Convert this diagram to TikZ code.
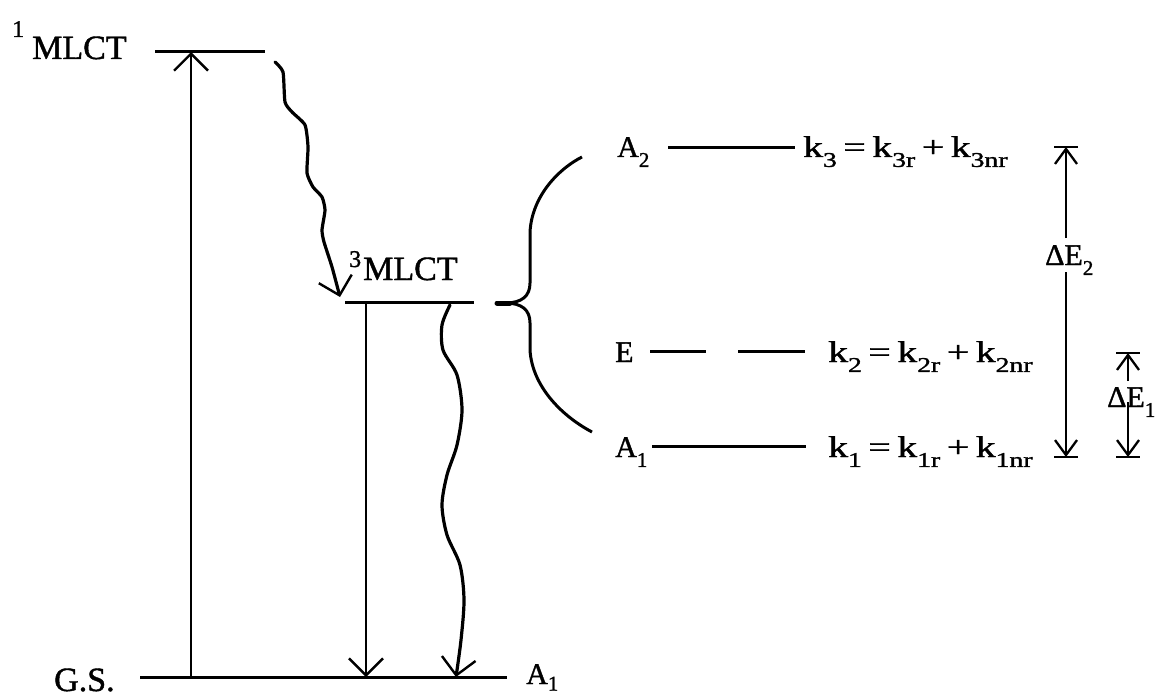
\documentclass[tikz,border=0pt]{standalone}
\usepackage{fontspec}
\setmainfont{Liberation Serif}
\newfontfamily\hv{Liberation Serif}[FakeBold=1.2]
\usetikzlibrary{arrows.meta}
\newcommand\mysub[1]{\raisebox{-0.33em}{\fontsize{21}{21}\selectfont #1}}
\newcommand\myup[2]{\raisebox{#1}{\fontsize{24}{24}\selectfont #2}}
\newcommand\krow[1]{\scalebox{1.32}[1]{#1}}
\tikzset{
  lv/.style={line width=3pt},
  ar/.style={line width=2.5pt},
  wv/.style={line width=3.2pt, line join=round, line cap=round},
  txt/.style={inner sep=0pt, font=\hv\fontsize{30}{30}\selectfont},
  bigtxt/.style={inner sep=0pt, font=\hv\fontsize{34}{34}\selectfont},
  Vbig/.tip={Straight Barb[length=17pt,width=34pt,line width=2.4pt]},
  Vsml/.tip={Straight Barb[length=15pt,width=22pt,line width=2.3pt]},
}
\begin{document}
\begin{tikzpicture}[x=1pt,y=-1pt]
\useasboundingbox (0,0) rectangle (1169,698);

% level lines
\coordinate (s1L) at (155,52);  \coordinate (s1R) at (265,52);
\coordinate (t3L) at (345,302); \coordinate (t3R) at (474,302);
\coordinate (gsL) at (140,677); \coordinate (gsR) at (507,677);
\draw[lv] (s1L) -- (s1R);
\draw[lv] (t3L) -- (t3R);
\draw[lv] (gsL) -- (gsR);

% labels, left part
\node[bigtxt, anchor=base west] (l1) at (12,59) {\myup{22pt}{1}\hspace{8pt}MLCT};
\node[bigtxt, anchor=base west] (l3) at (349,280) {\myup{13pt}{3}\hspace{2pt}MLCT};
\node[bigtxt, anchor=base west] (lgs) at (54,691) {G.S.};
\node[txt, anchor=base west] (lga) at (526,684) {A\raisebox{-0.22em}{\fontsize{21}{21}\selectfont 1}};

% absorption and emission
\coordinate (absB) at (191,677); \coordinate (absT) at (191,52);
\draw[ar, -{Vbig}] (absB) -- (absT);
\coordinate (emT) at (366,302); \coordinate (emB) at (366,677);
\draw[ar, -{Vbig}] (emT) -- (emB);

% wavy arrows
\coordinate (w1s) at (275,62); \coordinate (w1e) at (340,297);
\draw[wv, -{Vbig}] plot[smooth, tension=0.35] coordinates {(w1s) (283,72) (285,102) (292,112) (305,125) (308,147) (307,173) (313,187) (322,197) (325,210) (322,230) (324,242) (332,267) (w1e)};
\coordinate (w2s) at (450,305); \coordinate (w2e) at (456,677);
\draw[wv, -{Vbig}] plot[smooth, tension=0.5] coordinates {(w2s) (442,325) (443,350) (457,375) (462,410) (457,445) (447,475) (442,505) (447,535) (460,565) (464,600) (461,640) (w2e)};

% brace
\coordinate (brT) at (582,157); \coordinate (brB) at (592,432); \coordinate (brTip) at (497,303);
\draw[lv] (brT) .. controls (560,168) and (532,195) .. (530,232) -- (530,283) .. controls (530,296) and (522,303) .. (505,303)
          .. controls (522,303) and (530,310) .. (530,323) -- (530,350) .. controls (532,385) and (560,415) .. (brB);
\draw[line width=5pt, line cap=round] (brTip) -- (510,303);

% sublevels
\node[txt, anchor=base west] (a2) at (617,157) {A\mysub{2}};
\coordinate (a2L) at (668,147); \coordinate (a2R) at (795,147);
\draw[lv] (a2L) -- (a2R);
\node[txt, anchor=base west] (k3) at (803,157) {\krow{k\mysub{3}\,=\,k\mysub{3r}\,+\,k\mysub{3nr}}};

\node[txt, anchor=base west] (e) at (615,362) {E};
\coordinate (eL) at (650,351); \coordinate (eM1) at (706,351); \coordinate (eM2) at (738,351); \coordinate (eR) at (805,351);
\draw[lv] (eL) -- (eM1);
\draw[lv] (eM2) -- (eR);
\node[txt, anchor=base west] (k2) at (828,362) {\krow{k\mysub{2}\,=\,k\mysub{2r}\,+\,k\mysub{2nr}}};

\node[txt, anchor=base west] (a1) at (615,457) {A\mysub{1}};
\coordinate (a1L) at (652,446); \coordinate (a1R) at (806,446);
\draw[lv] (a1L) -- (a1R);
\node[txt, anchor=base west] (k1) at (828,457) {\krow{k\mysub{1}\,=\,k\mysub{1r}\,+\,k\mysub{1nr}}};

% energy gaps
\node[txt, anchor=base west] (dE2) at (1045,265) {ΔE\mysub{2}};
\coordinate (d2T) at (1066,147); \coordinate (d2B) at (1066,457);
\coordinate (d2u) at (1066,238); \coordinate (d2l) at (1066,272);
\draw[ar, -{Vsml}] (d2u) -- (d2T);
\draw[ar, -{Vsml}] (d2l) -- (d2B);
\draw[ar] ([xshift=-12pt]d2T) -- ([xshift=12pt]d2T);
\draw[ar] ([xshift=-12pt]d2B) -- ([xshift=12pt]d2B);

\node[txt, anchor=base west] (dE1) at (1107,407) {ΔE\mysub{1}};
\coordinate (d1T) at (1128,353); \coordinate (d1B) at (1128,457);
\coordinate (d1u) at (1128,381); \coordinate (d1l) at (1128,402);
\draw[ar, -{Vsml}] (d1u) -- (d1T);
\draw[ar, -{Vsml}] (d1l) -- (d1B);
\draw[ar] ([xshift=-12pt]d1T) -- ([xshift=12pt]d1T);
\draw[ar] ([xshift=-12pt]d1B) -- ([xshift=12pt]d1B);
\end{tikzpicture}
\end{document}
